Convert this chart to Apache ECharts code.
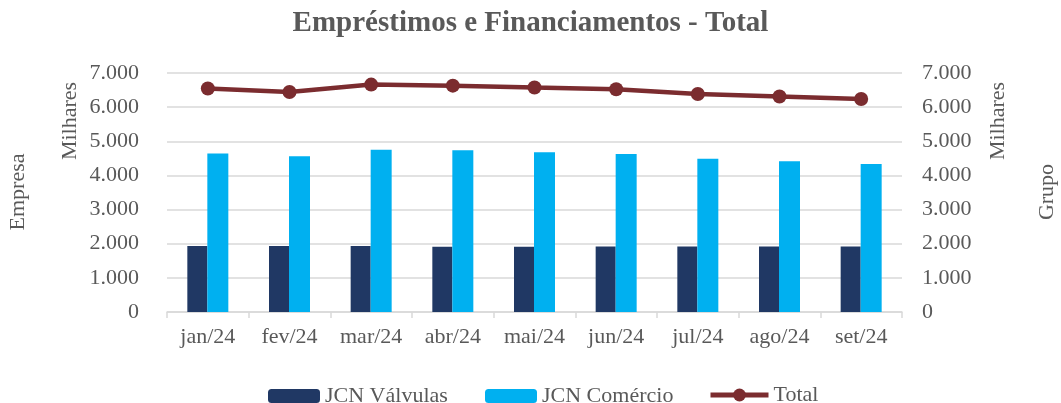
<!DOCTYPE html>
<html>
<head>
<meta charset="utf-8">
<script src="https://cdn.jsdelivr.net/npm/echarts@6/dist/echarts.min.js"></script>
<style>html,body{margin:0;padding:0;background:#fff}#c{width:1061px;height:403px}</style>
</head>
<body>
<div id="c"></div>
<script>
var categories = ['jan/24','fev/24','mar/24','abr/24','mai/24','jun/24','jul/24','ago/24','set/24'];
var valvulas = [1935, 1935, 1935, 1910, 1910, 1915, 1915, 1915, 1915];
var comercio = [4640, 4560, 4755, 4735, 4680, 4630, 4485, 4415, 4335];
var total = [6545, 6445, 6660, 6630, 6575, 6525, 6385, 6310, 6240];
var tickValues = [0, 1000, 2000, 3000, 4000, 5000, 6000, 7000];

var FONT = '"Liberation Serif", "DejaVu Serif", serif';
var TXT = '#595959';
function fmt(v){ return String(v).replace(/\B(?=(\d{3})+(?!\d))/g, '.'); }

var chart = echarts.init(document.getElementById('c'));
var yCommon = {
  type: 'value', min: tickValues[0], max: tickValues[tickValues.length-1], interval: 1000,
  axisLine: {show: false}, axisTick: {show: false},
  axisLabel: {formatter: fmt, color: TXT, fontFamily: FONT, fontSize: 22}
};
var legendText = {fontFamily: FONT, fontSize: 22, color: TXT, padding: [0,0,0,0]};
chart.setOption({
  animation: false,
  backgroundColor: '#fff',
  title: {
    text: 'Empréstimos e Financiamentos - Total', left: 'center', top: 4,
    textStyle: {fontFamily: FONT, fontSize: 29, fontWeight: 'bold', color: TXT}
  },
  legend: [
    {data: ['JCN Válvulas'], left: 263, top: 380, itemWidth: 52, itemHeight: 14, textStyle: legendText},
    {data: ['JCN Comércio'], left: 480, top: 380, itemWidth: 52, itemHeight: 14, textStyle: legendText},
    {data: ['Total'], left: 703, top: 379, itemWidth: 58, itemHeight: 16, textStyle: legendText,
     lineStyle: {width: 5}}
  ],
  grid: {left: 167, right: 159, top: 73, bottom: 91, containLabel: false},
  xAxis: {
    type: 'category', data: categories, boundaryGap: true,
    axisLine: {lineStyle: {color: '#d9d9d9', width: 1.5}},
    axisTick: {show: true, length: 6, lineStyle: {color: '#d9d9d9', width: 1.5}},
    axisLabel: {color: TXT, fontFamily: FONT, fontSize: 22, margin: 14}
  },
  yAxis: [
    Object.assign({}, yCommon, {position: 'left', splitLine: {lineStyle: {color: '#d9d9d9', width: 1.5}},
      axisLabel: Object.assign({}, yCommon.axisLabel, {margin: 28})}),
    Object.assign({}, yCommon, {position: 'right', splitLine: {show: false},
      axisLabel: Object.assign({}, yCommon.axisLabel, {margin: 20})})
  ],
  series: [
    {name: 'JCN Válvulas', type: 'bar', data: valvulas, barWidth: 20, barGap: '0%',
     itemStyle: {color: '#203864'}},
    {name: 'JCN Comércio', type: 'bar', data: comercio, barWidth: 21, barGap: '0%',
     itemStyle: {color: '#00b0f0'}},
    {name: 'Total', type: 'line', yAxisIndex: 1, data: total, symbol: 'circle', symbolSize: 14,
     lineStyle: {color: '#7b2c2f', width: 4.5}, itemStyle: {color: '#7b2c2f'}}
  ],
  graphic: [
    {type: 'text', x: 70, y: 121, rotation: Math.PI/2,
     style: {text: 'Milhares', fill: TXT, font: '22px ' + FONT, textAlign: 'center', textVerticalAlign: 'middle'}},
    {type: 'text', x: 998, y: 121, rotation: Math.PI/2,
     style: {text: 'Milhares', fill: TXT, font: '22px ' + FONT, textAlign: 'center', textVerticalAlign: 'middle'}},
    {type: 'text', x: 18, y: 192, rotation: Math.PI/2,
     style: {text: 'Empresa', fill: TXT, font: '22px ' + FONT, textAlign: 'center', textVerticalAlign: 'middle'}},
    {type: 'text', x: 1047, y: 192, rotation: Math.PI/2,
     style: {text: 'Grupo', fill: TXT, font: '22px ' + FONT, textAlign: 'center', textVerticalAlign: 'middle'}}
  ]
});
</script>
</body>
</html>
